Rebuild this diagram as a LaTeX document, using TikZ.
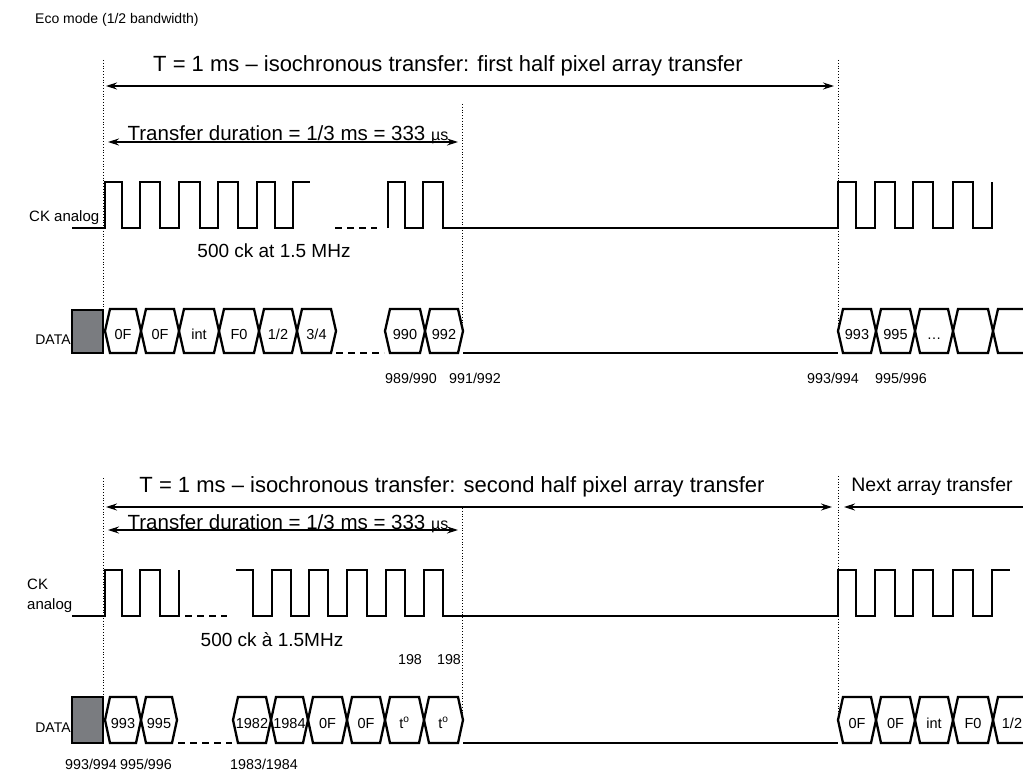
\documentclass[tikz,border=0pt]{standalone}
\usepackage{fontspec}
\setmainfont{Liberation Sans}
\usetikzlibrary{arrows.meta}
\definecolor{boxgrey}{RGB}{122,124,128}
\newcommand\hexcell[6]{%
  \draw[bus] (#1,{(#3+#4)/2}) -- ({#1+5},#3) -- ({#2-5},#3) -- (#2,{(#3+#4)/2}) -- ({#2-5},#4) -- ({#1+5},#4) -- cycle;
  \node[celltext,anchor=base] (#6) at ({(#1+#2)/2},{(#3+#4)/2+8}) {#5};}
\begin{document}
\begin{tikzpicture}[x=1pt,y=-1pt,
  wave/.style={line width=1.3pt,line join=miter},
  bus/.style={line width=2.3pt,line join=miter},
  busline/.style={line width=1.3pt},
  gap/.style={line width=1.3pt,dash pattern=on 7pt off 5pt},
  guide/.style={line width=0.8pt,dotted},
  dimarrow/.style={line width=1.2pt,{Stealth[length=11pt,width=7pt]}-{Stealth[length=11pt,width=7pt]}},
  onearrow/.style={line width=1.2pt,-{Stealth[length=11pt,width=7pt]}},
  celltext/.style={font=\fontsize{14.5}{14.5}\selectfont,inner sep=0pt},
  bigtext/.style={font=\fontsize{22}{22}\selectfont,inner sep=0pt},
  nexttext/.style={font=\fontsize{19.5}{19.5}\selectfont,inner sep=0pt},
  durtext/.style={font=\fontsize{20.5}{20.5}\selectfont,inner sep=0pt},
  midtext/.style={font=\fontsize{19}{19}\selectfont,inner sep=0pt},
  labtext/.style={font=\fontsize{14.3}{14.3}\selectfont,inner sep=0pt},
  smalltext/.style={font=\fontsize{14}{14}\selectfont,inner sep=0pt},
  cktext/.style={font=\fontsize{15}{15}\selectfont,inner sep=0pt},
  greybox/.style={fill=boxgrey,draw=black,line width=1.2pt}
]
\useasboundingbox (0,0) rectangle (1023,773);
\clip (0,0) rectangle (1023,773);

% title
\node[smalltext,anchor=base west] (title) at (35,24) {Eco mode (1/2 bandwidth)};

% ---------------- top section ----------------
\draw[guide] (103,60) -- (103,353);
\draw[guide] (462,104) -- (462,332);
\draw[guide] (838,60) -- (838,330);

\node[bigtext] (ttop) at (448,66) {T = 1 ms – isochronous transfer: first half pixel array transfer};
\coordinate (ttopl) at (106,86);
\coordinate (ttopr) at (834,86);
\draw[dimarrow] (ttopl) -- (ttopr);

\node[durtext,anchor=base] (dtop) at (288,141) {Transfer duration = 1/3 ms = 333 {\fontsize{16}{16}\selectfont µs}};
\coordinate (dtopl) at (108,142);
\coordinate (dtopr) at (458,142);
\draw[dimarrow] (dtopl) -- (dtopr);

\node[cktext,anchor=base west] (cktop) at (29,221) {CK analog};
\draw[wave] (72,228) -- (105,228) -- (105,182) -- (122,182) -- (122,228) -- (140,228) -- (140,182) -- (160,182) -- (160,228) -- (179,228) -- (179,182) -- (200,182) -- (200,228) -- (218,228) -- (218,182) -- (238,182) -- (238,228) -- (257,228) -- (257,182) -- (275,182) -- (275,228) -- (293,228) -- (293,182) -- (310,182);
\draw[gap] (335,228) -- (377,228);
\draw[wave] (388,228) -- (388,182) -- (405,182) -- (405,228) -- (423,228) -- (423,182) -- (443,182) -- (443,228) -- (838,228) -- (838,182) -- (856,182) -- (856,228) -- (875,228) -- (875,182) -- (895,182) -- (895,228) -- (913,228) -- (913,182) -- (933,182) -- (933,228) -- (953,228) -- (953,182) -- (973,182) -- (973,228) -- (992,228) -- (992,182);
\node[midtext] (cktopnote) at (274,251) {500 ck at 1.5 MHz};

\node[smalltext] (datatop) at (53,340) {DATA};
\draw[greybox] (72,310) rectangle (103,353);
\hexcell{105}{141}{309}{353}{0F}{a1}
\hexcell{141}{179}{309}{353}{0F}{a2}
\hexcell{179}{219}{309}{353}{int}{a3}
\hexcell{219}{259}{309}{353}{F0}{a4}
\hexcell{259}{297}{309}{353}{1/2}{a5}
\hexcell{297}{336}{309}{353}{3/4}{a6}
\draw[gap] (336,353) -- (384,353);
\hexcell{385}{425}{309}{353}{990}{a7}
\hexcell{425}{463}{309}{353}{992}{a8}
\draw[busline] (463,353) -- (838,353);
\hexcell{838}{876}{309}{353}{993}{a9}
\hexcell{876}{915}{309}{353}{995}{a10}
\hexcell{915}{953}{309}{353}{…}{a11}
\hexcell{953}{993}{309}{353}{}{a12}
\hexcell{993}{1031}{309}{353}{}{a13}

\node[labtext] (l1) at (411,378) {989/990};
\node[labtext] (l2) at (475,378) {991/992};
\node[labtext] (l3) at (833,378) {993/994};
\node[labtext] (l4) at (901,378) {995/996};

% ---------------- bottom section ----------------
\draw[guide] (103,478) -- (103,697);
\draw[guide] (462,508) -- (462,720);
\draw[guide] (838,476) -- (838,720);

\node[bigtext] (tbot) at (452,487) {T = 1 ms – isochronous transfer: second half pixel array transfer};
\coordinate (tbotl) at (106,507);
\coordinate (tbotr) at (832,507);
\draw[dimarrow] (tbotl) -- (tbotr);
\node[nexttext] (next) at (932,486) {Next array transfer};
\coordinate (nextr) at (1023,507);
\coordinate (nextl) at (844,507);
\draw[onearrow] (nextr) -- (nextl);

\node[durtext,anchor=base] (dbot) at (288,529) {Transfer duration = 1/3 ms = 333 {\fontsize{16}{16}\selectfont µs}};
\coordinate (dbotl) at (108,530);
\coordinate (dbotr) at (458,530);
\draw[dimarrow] (dbotl) -- (dbotr);

\node[cktext,anchor=base west] (ckbot1) at (27,589) {CK};
\node[cktext,anchor=base west] (ckbot2) at (27,609) {analog};
\draw[wave] (72,616) -- (105,616) -- (105,570) -- (122,570) -- (122,616) -- (140,616) -- (140,570) -- (160,570) -- (160,616) -- (179,616) -- (179,570);
\draw[gap] (185,616) -- (227,616);
\draw[wave] (236,570) -- (253,570) -- (253,616) -- (272,616) -- (272,570) -- (291,570) -- (291,616) -- (309,616) -- (309,570) -- (328,570) -- (328,616) -- (347,616) -- (347,570) -- (367,570) -- (367,616) -- (386,616) -- (386,570) -- (405,570) -- (405,616) -- (424,616) -- (424,570) -- (443,570) -- (443,616) -- (838,616) -- (838,570) -- (856,570) -- (856,616) -- (875,616) -- (875,570) -- (895,570) -- (895,616) -- (913,616) -- (913,570) -- (933,570) -- (933,616) -- (953,616) -- (953,570) -- (973,570) -- (973,616) -- (992,616) -- (992,570) -- (1010,570);
\node[midtext] (ckbotnote) at (272,640) {500 ck à 1.5MHz};
\node[labtext] (n198a) at (410,660) {198};
\node[labtext] (n198b) at (449,660) {198};

\node[smalltext] (databot) at (53,728) {DATA};
\draw[greybox] (72,697) rectangle (103,743);
\hexcell{105}{141}{697}{743}{993}{b1}
\hexcell{141}{177}{697}{743}{995}{b2}
\draw[gap] (178,743) -- (232,743);
\hexcell{233}{271}{697}{743}{1982}{b3}
\hexcell{271}{308}{697}{743}{1984}{b4}
\hexcell{308}{347}{697}{743}{0F}{b5}
\hexcell{347}{385}{697}{743}{0F}{b6}
\hexcell{385}{424}{697}{743}{t\textsuperscript{o}}{b7}
\hexcell{424}{463}{697}{743}{t\textsuperscript{o}}{b8}
\draw[busline] (463,743) -- (838,743);
\hexcell{838}{876}{697}{743}{0F}{b9}
\hexcell{876}{915}{697}{743}{0F}{b10}
\hexcell{915}{953}{697}{743}{int}{b11}
\hexcell{953}{993}{697}{743}{F0}{b12}
\hexcell{993}{1031}{697}{743}{1/2}{b13}

\node[labtext,anchor=base] (m1) at (91,769) {993/994};
\node[labtext,anchor=base] (m2) at (146,769) {995/996};
\node[labtext,anchor=base] (m3) at (264,769) {1983/1984};
\end{tikzpicture}
\end{document}
